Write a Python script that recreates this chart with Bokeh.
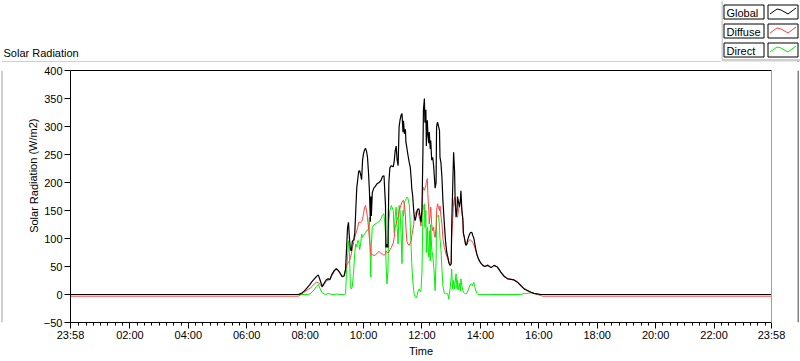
import math
from bokeh.plotting import figure
from bokeh.layouts import column, row
from bokeh.models import FixedTicker, LinearAxis, Range1d, ColumnDataSource
from bokeh.core.properties import value
from bokeh.embed import file_html
from bokeh.resources import INLINE

# ---------------- data ----------------
times = ["23:58", "07:46", "07:52", "07:58", "08:04", "08:10", "08:14", "08:18", "08:23", "08:27",
         "08:31", "08:35", "08:39", "08:43", "08:47", "08:51", "08:55", "09:00", "09:04", "09:08",
         "09:12", "09:16", "09:20", "09:23", "09:25", "09:27", "09:29", "09:31", "09:33", "09:35",
         "09:37", "09:40", "09:42", "09:44", "09:46", "09:48", "09:50", "09:52", "09:54", "09:56",
         "09:58", "10:00", "10:02", "10:04", "10:06", "10:08", "10:10", "10:12", "10:14", "10:15",
         "10:16", "10:18", "10:21", "10:24", "10:28", "10:32", "10:36", "10:39", "10:42", "10:45",
         "10:46", "10:48", "10:50", "10:52", "10:54", "10:57", "11:01", "11:03", "11:05", "11:07",
         "11:09", "11:11", "11:13", "11:15", "11:17", "11:19", "11:21", "11:22", "11:24", "11:26",
         "11:27", "11:29", "11:31", "11:34", "11:36", "11:38", "11:39", "11:41", "11:43", "11:44",
         "11:46", "11:48", "11:50", "11:52", "11:54", "11:57", "11:58", "12:00", "12:02", "12:03",
         "12:05", "12:06", "12:08", "12:09", "12:11", "12:12", "12:14", "12:15", "12:17", "12:18",
         "12:20", "12:22", "12:24", "12:25", "12:27", "12:29", "12:30", "12:32", "12:34", "12:36",
         "12:37", "12:39", "12:41", "12:43", "12:46", "12:48", "12:49", "12:51", "12:53", "12:55",
         "12:56", "12:58", "13:00", "13:01", "13:03", "13:05", "13:07", "13:08", "13:10", "13:12",
         "13:13", "13:15", "13:17", "13:19", "13:20", "13:22", "13:24", "13:25", "13:27", "13:29",
         "13:30", "13:32", "13:34", "13:37", "13:39", "13:41", "13:43", "13:44", "13:46", "13:47",
         "13:49", "13:51", "13:53", "13:55", "13:58", "14:01", "14:05", "14:09", "14:15", "14:17",
         "14:22", "14:28", "14:35", "14:42", "14:49", "14:56", "15:03", "15:09", "15:16", "15:23",
         "15:30", "15:37", "15:44", "15:50", "15:57", "16:04", "16:08", "23:58"]

global_wm2 = [0, 0, 2, 6, 12, 18, 23, 27, 32, 35,
              25, 14, 20, 26, 28, 27, 36, 43, 46, 43,
              38, 32, 33, 45, 80, 118, 129, 100, 80, 78,
              95, 98, 110, 150, 190, 205, 220, 221, 214, 205,
              240, 252, 258, 261, 256, 246, 220, 186, 130, 175,
              140, 182, 190, 193, 198, 200, 204, 211, 212, 160,
              84, 90, 84, 200, 226, 230, 228, 238, 257, 265,
              240, 230, 299, 312, 320, 323, 290, 310, 287, 295,
              272, 262, 250, 235, 227, 205, 190, 175, 150, 140,
              132, 140, 150, 153, 152, 135, 129, 150, 257, 330,
              350, 307, 330, 265, 311, 290, 270, 290, 260, 275,
              240, 245, 230, 216, 190, 200, 300, 308, 300, 293,
              245, 235, 209, 168, 126, 100, 90, 75, 67, 58,
              55, 52, 55, 120, 186, 254, 220, 174, 138, 150,
              175, 165, 156, 170, 185, 150, 135, 110, 102, 92,
              88, 90, 98, 106, 110, 111, 110, 106, 102, 99,
              88, 79, 71, 66, 60, 56, 52, 50, 52, 51,
              48, 52, 49, 40, 32, 28, 27, 26, 22, 16,
              10, 7, 4, 2, 1, 0, 0, 0]

diffuse_wm2 = [-3, -3, 0, 4, 8, 11, 14, 18, 22, 21,
               18, 13, 18, 23, 26, 26, 34, 41, 46, 42,
               37, 32, 33, 44, 52, 55, 57, 60, 66, 73,
               82, 95, 102, 108, 114, 120, 129, 129, 128, 130,
               135, 145, 155, 159, 150, 138, 120, 100, 84, 72,
               70, 71, 70, 70, 74, 77, 73, 72, 70, 72,
               78, 76, 74, 76, 80, 84, 92, 102, 120, 126,
               134, 138, 150, 155, 160, 165, 168, 168, 160, 140,
               120, 95, 90, 88, 92, 96, 105, 114, 125, 138,
               144, 148, 150, 146, 140, 128, 122, 150, 192, 188,
               186, 190, 195, 200, 207, 180, 150, 126, 145, 156,
               125, 114, 120, 108, 102, 120, 150, 162, 155, 150,
               158, 140, 126, 100, 84, 78, 73, 68, 66, 58,
               55, 53, 55, 100, 132, 165, 174, 160, 150, 140,
               138, 150, 160, 165, 168, 150, 130, 110, 102, 92,
               88, 88, 93, 97, 98, 96, 95, 93, 90, 87,
               83, 77, 71, 66, 60, 56, 52, 50, 53, 52,
               48, 52, 49, 40, 33, 28, 27, 26, 23, 16,
               10, 6, 4, 2, 0, -2, -3, -3]

direct_wm2 = [0, 0, 0, 0, 0, 1, 4, 8, 14, 18,
              10, 3, 1, 0, 2, 1, 0, 0, 1, 0,
              0, 0, 0, 1, 40, 65, 96, 75, 12, 10,
              15, 45, 75, 90, 85, 96, 96, 80, 90, 108,
              102, 106, 108, 110, 114, 114, 118, 138, 58, 31,
              90, 120, 124, 126, 128, 130, 135, 142, 144, 110,
              60, 19, 40, 130, 150, 159, 150, 110, 140, 156,
              120, 90, 159, 150, 110, 55, 150, 140, 165, 168,
              170, 174, 172, 160, 126, 79, 55, 25, 7, 1,
              -4, -6, -2, 6, 10, 5, 8, 40, 150, 155,
              162, 120, 150, 75, 120, 90, 67, 114, 60, 125,
              80, 70, 50, 40, 7, 60, 138, 140, 142, 120,
              100, 80, 45, 15, 2, 1, 1, 2, 1, -8,
              0, 12, 31, 45, 10, 25, 10, 20, 37, 10,
              25, 8, 20, 6, 28, 15, 8, 4, 3, 1,
              1, 2, 6, 13, 17, 19, 18, 16, 22, 20,
              12, 6, 2, 0, 0, 0, 0, 0, 0, 0,
              0, 0, 0, 0, 0, 0, 0, 0, 0, 0,
              2, 2, 3, 2, 0, 0, 0, 0]

series_names = ["Global", "Diffuse", "Direct"]
chart_title = "Solar Radiation"
x_title = "Time"
y_title = "Solar Radiation (W/m2)"
x_tick_labels = ["23:58", "02:00", "04:00", "06:00", "08:00", "10:00", "12:00",
                 "14:00", "16:00", "18:00", "20:00", "22:00", "23:58"]
y_ticks = [-50, 0, 50, 100, 150, 200, 250, 300, 350, 400]
y_limits = [-50, 400]

# ---------------- styles ----------------
FONT = "Liberation Sans"
FS = "11px"
colors = ["#000000", "#ff4040", "#00f000"]
widths = [1.2, 1.0, 1.0]
GRAY = "#a0a0a0"


def hhmm_to_min(s):
    h, m = s.split(":")
    return int(h) * 60 + int(m)


def to_axis_minutes(labels):
    out = [hhmm_to_min(s) for s in labels]
    if out[0] > out[1]:  # first stamp belongs to the previous day
        out[0] -= 1440
    return out


t = to_axis_minutes(times)
xt = to_axis_minutes(x_tick_labels)
minor = [m for m in range(0, 1440, 15) if m % 120 != 0]

src = ColumnDataSource(dict(t=t, g=global_wm2, d=diffuse_wm2, r=direct_wm2))


def deco_figure(w, h):
    f = figure(width=w, height=h, output_backend="svg", toolbar_location=None,
               x_range=Range1d(0, w), y_range=Range1d(h, 0), min_border=0,
               x_axis_location=None, y_axis_location=None)
    f.grid.visible = False
    f.outline_line_color = None
    f.background_fill_color = "white"
    f.border_fill_color = "white"
    return f


TOP_H = 62
MID_H = 297
BOT_H = 2
LEFT_W = 40
RIGHT_W = 3

# ---------------- header: title strip ----------------
head = deco_figure(721, TOP_H)
head.text(x=[3], y=[52], text=[chart_title], text_font=value(FONT),
          text_font_size=FS, text_baseline="middle", text_align="left",
          text_color="black")
head.line(x=[1.5, 721], y=[61.5, 61.5], line_color=GRAY, line_width=1)
head.line(x=[1.5, 1.5], y=[61.5, 62], line_color=GRAY, line_width=1)

# ---------------- header: legend ----------------
leg = deco_figure(79, TOP_H)
leg.line(x=[0.5, 0.5], y=[0, 59], line_color=GRAY, line_width=1)
leg.line(x=[0, 79], y=[59.5, 59.5], line_color=GRAY, line_width=1)
leg.line(x=[0, 79], y=[60.5, 60.5], line_color="#d0d0d0", line_width=1)
leg.line(x=[76.5, 76.5], y=[61, 62], line_color="black", line_width=1)
zig = [(2, 9), (9, 4), (13, 5), (20, 9), (28, 3)]
for i, (name, c) in enumerate(zip(series_names, colors)):
    top = 4.5 + 19 * i
    leg.quad(left=[2.5], right=[42.5], top=[top], bottom=[top + 14],
             fill_color="white", line_color="black", line_width=1)
    leg.text(x=[5], y=[top + 7.5], text=[name], text_font=value(FONT),
             text_font_size=FS, text_baseline="middle", text_align="left",
             text_color="black")
    leg.quad(left=[46.5], right=[76.5], top=[top], bottom=[top + 14],
             fill_color="white", line_color="black", line_width=1)
    leg.line(x=[46.5 + a for a, _ in zig], y=[top + b for _, b in zig],
             line_color=c, line_width=1)

# ---------------- left strip: panel edge + y title ----------------
lft = deco_figure(LEFT_W, MID_H)
lft.line(x=[1.5, 1.5], y=[0, MID_H], line_color=GRAY, line_width=1)
lft.text(x=[33], y=[124], text=[y_title], angle=[math.pi / 2],
         text_font=value(FONT), text_font_size=FS, text_baseline="middle",
         text_align="center", text_color="black")

# ---------------- right strip / bottom strip: panel edges ----------------
rgt = deco_figure(RIGHT_W, MID_H)
rgt.line(x=[0.5, 0.5], y=[0, MID_H], line_color="black", line_width=1)
bot = deco_figure(800, BOT_H)
bot.line(x=[1, 798], y=[0.5, 0.5], line_color="black", line_width=1)
bot.line(x=[1.5, 1.5], y=[0, 0.5], line_color=GRAY, line_width=1)

# ---------------- main chart ----------------
MAIN_W = 800 - LEFT_W - RIGHT_W
p = figure(width=MAIN_W, height=MID_H, output_backend="svg", toolbar_location=None,
           x_range=Range1d(xt[0], xt[-1]), y_range=Range1d(*y_limits),
           min_border_left=69 - LEFT_W, min_border_right=MAIN_W - (771 - LEFT_W),
           min_border_top=8, min_border_bottom=MID_H - 260,
           x_axis_label=x_title)
p.background_fill_color = "white"
p.border_fill_color = "white"
p.outline_line_color = None
p.grid.visible = False

xa = p.xaxis[0]
xa.ticker = FixedTicker(ticks=xt, minor_ticks=minor)
xa.major_label_overrides = {v: s for v, s in zip(xt, x_tick_labels)}
ya = p.yaxis[0]
ya.ticker = FixedTicker(ticks=y_ticks)
for ax in (xa, ya):
    ax.axis_line_color = "black"
    ax.major_tick_line_color = "black"
    ax.minor_tick_line_color = "black"
    ax.major_tick_out = 6
    ax.major_tick_in = 0
    ax.minor_tick_out = 3
    ax.minor_tick_in = 0
    ax.major_label_text_font = FONT
    ax.major_label_text_font_size = FS
    ax.major_label_text_color = "black"
    ax.axis_label_text_font = FONT
    ax.axis_label_text_font_size = FS
    ax.axis_label_text_font_style = "normal"
    ax.axis_label_text_color = "black"
ya.minor_tick_line_color = None
xa.major_label_standoff = 0
xa.axis_label_standoff = 1
ya.major_label_standoff = 2

# frame borders: black top, grey right
for loc, col in (("above", "black"), ("right", GRAY)):
    ax = LinearAxis(ticker=FixedTicker(ticks=[]), axis_line_color=col,
                    major_tick_out=0, major_tick_in=0, minor_tick_out=0,
                    minor_tick_in=0, major_label_standoff=0, axis_label_standoff=0)
    p.add_layout(ax, loc)

# series (drawn Direct, Diffuse, Global so Global ends on top)
for col_name, c, w in zip(["r", "d", "g"], colors[::-1], widths[::-1]):
    p.line("t", col_name, source=src, line_color=c, line_width=w)

layout = column(row(head, leg, spacing=0),
                row(lft, p, rgt, spacing=0),
                bot, spacing=0)
open("out.html", "w").write(file_html(layout, INLINE))
